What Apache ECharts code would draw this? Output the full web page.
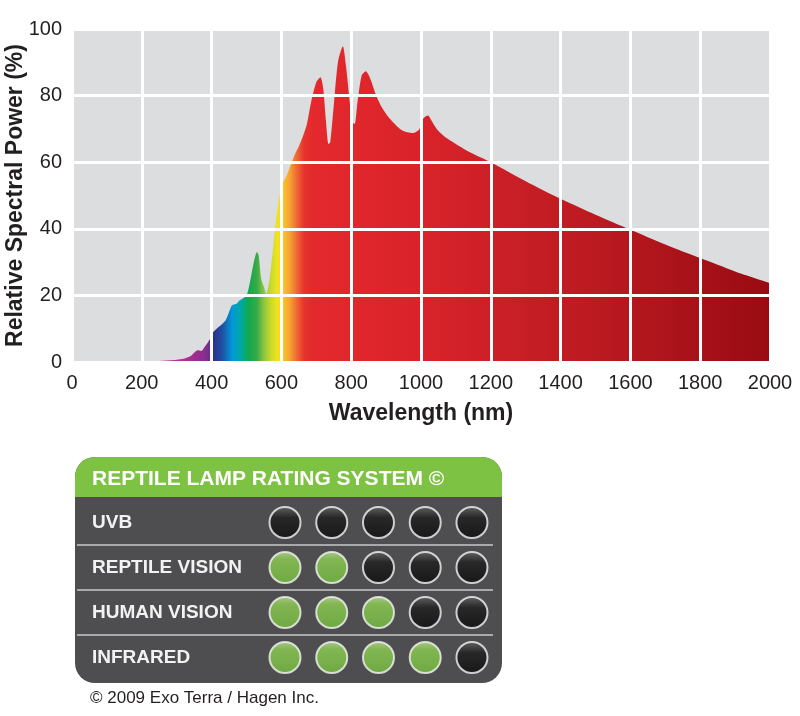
<!DOCTYPE html>
<html>
<head>
<meta charset="utf-8">
<script src="https://cdn.jsdelivr.net/npm/echarts@6/dist/echarts.min.js"></script>
<style>
  html, body { margin: 0; padding: 0; background: #fff; }
  #main { width: 800px; height: 716px; }
</style>
</head>
<body>
<div id="main"></div>
<script>
// spectrum (nm, % relative power)
const wavelengths = [0, 200, 220, 260, 300, 320, 340, 350, 360, 370, 380, 395, 400, 405, 420, 440, 450, 458, 470, 480, 500,
  510, 520, 530, 535, 542, 550, 557, 565, 575, 585, 595, 600, 615, 635, 655, 672, 685, 700, 712, 720, 728, 735, 740,
  750, 762, 776, 785, 795, 803, 810, 818, 830, 842, 855, 870, 885, 900, 920, 940, 960, 978, 990, 996, 1000, 1010,
  1020, 1030, 1045, 1070, 1100, 1140, 1200, 1300, 1400, 1500, 1600, 1700, 1800, 1900, 2000];
const power = [0, 0, 0.2, 0.4, 0.7, 1, 1.8, 2.8, 3.5, 3.3, 4.5, 6.8, 8, 9, 10.5, 12.5, 15, 17, 17.4, 18.5, 20,
  24, 29.5, 33, 32, 25, 22.5, 20.5, 24, 33, 43, 50, 53, 56, 61.5, 66, 71, 78, 84, 85.5, 82, 72, 65.5, 66,
  77, 90, 94.8, 89, 79, 72, 71.5, 78, 86, 87.3, 85, 80.5, 77, 74.5, 72, 70, 69, 68.8, 69.4, 70, 72, 73.5,
  74, 72.5, 70, 67.5, 65.5, 63, 60, 54.3, 49, 44.2, 39.7, 35.3, 31.2, 27.2, 23.7];

// colour of the fill along the wavelength axis
const spectrumNm = [0, 300, 380, 398, 402, 430, 460, 485, 505, 530, 550, 570, 590, 605, 625, 645, 665, 690, 1000, 1500, 2000];
const spectrumColors = ['#c12f8f', '#c12f8f', '#8a2d8f', '#6a2f8c', '#2b2f87', '#1f4fa3', '#009ad8', '#00a9a0', '#10a84e',
  '#3aaa48', '#8dc63f', '#c9da2a', '#f2e41e', '#f9c52c', '#f5a032', '#ee6535', '#e6342e', '#e3292d', '#d9232a', '#bb1a21', '#990b12'];

const xTicks = { min: 0, max: 2000, step: 200 };
const yTicks = { min: 0, max: 100, step: 20 };

// lamp rating
const ratingRows = ['UVB', 'REPTILE VISION', 'HUMAN VISION', 'INFRARED'];
const ratingScores = [0, 2, 3, 4];
const ratingSlots = [1, 2, 3, 4, 5];

const chart = echarts.init(document.getElementById('main'));

const baseFont = '"Liberation Sans", Arial, sans-serif';

const greenDot = {
  type: 'linear', x: 0, y: 0, x2: 0, y2: 1,
  colorStops: [{ offset: 0, color: '#c4e7a2' }, { offset: 0.25, color: '#8fd052' }, { offset: 1, color: '#76c040' }]
};
const blackDot = {
  type: 'linear', x: 0, y: 0, x2: 0, y2: 1,
  colorStops: [{ offset: 0, color: '#6a6a6a' }, { offset: 0.35, color: '#1e1e1e' }, { offset: 1, color: '#0a0a0a' }]
};

const dots = [];
ratingRows.forEach(function (row, i) {
  ratingSlots.forEach(function (s) {
    dots.push({ value: [s, row], itemStyle: { color: s <= ratingScores[i] ? greenDot : blackDot } });
  });
});

chart.setOption({
  animation: false,
  textStyle: { fontFamily: baseFont },
  graphic: [
    { type: 'rect', z: -10, shape: { x: 75, y: 457, width: 427, height: 226, r: 20 }, style: { fill: '#4e4e50' } },
    { type: 'rect', z: -9, shape: { x: 75, y: 457, width: 427, height: 40, r: [20, 20, 0, 0] }, style: { fill: '#7dc242' } },
    { type: 'text', z: -8, x: 92, y: 479, style: { text: 'REPTILE LAMP RATING SYSTEM ©', fill: '#ffffff',
      font: 'bold 21px "Liberation Sans", sans-serif', verticalAlign: 'middle' } },
    { type: 'text', x: 90, y: 698, style: { text: '© 2009 Exo Terra / Hagen Inc.', fill: '#231f20',
      font: '17px "Liberation Sans", sans-serif', verticalAlign: 'middle' } }
  ],
  grid: [
    { left: 72, right: 30, top: 29, bottom: 354, show: true, backgroundColor: '#dcdddf', borderWidth: 0,
      outerBoundsMode: 'none', containLabel: false },
    { left: 77, right: 307, top: 500, height: 180, outerBoundsMode: 'none', containLabel: false }
  ],
  xAxis: [
    {
      gridIndex: 0, type: 'value', min: xTicks.min, max: xTicks.max, interval: xTicks.step, z: 5,
      name: 'Wavelength (nm)', nameLocation: 'middle', nameGap: 40,
      nameTextStyle: { fontWeight: 'bold', fontSize: 23, color: '#231f20' },
      axisLine: { show: false }, axisTick: { show: false },
      axisLabel: { fontSize: 20, color: '#231f20', margin: 11, formatter: function (v) { return String(v); } },
      splitLine: { lineStyle: { color: '#ffffff', width: 3 } }
    },
    {
      gridIndex: 1, type: 'value', min: -3.45, max: 5.45, show: false
    }
  ],
  yAxis: [
    {
      gridIndex: 0, type: 'value', min: yTicks.min, max: yTicks.max, interval: yTicks.step, z: 5,
      name: 'Relative Spectral Power (%)', nameLocation: 'middle', nameGap: 45, nameMoveOverlap: false,
      nameTextStyle: { fontWeight: 'bold', fontSize: 23, color: '#231f20' },
      axisLine: { show: false }, axisTick: { show: false },
      axisLabel: { fontSize: 20, color: '#231f20', margin: 10 },
      splitLine: { lineStyle: { color: '#ffffff', width: 3 } }
    },
    {
      gridIndex: 1, type: 'category', data: ratingRows, inverse: true, z: 3,
      axisLine: { show: false }, axisTick: { show: false },
      axisLabel: { inside: true, margin: 15, align: 'left', color: '#f2f2f2', fontWeight: 'bold', fontSize: 19 },
      splitLine: { show: true, lineStyle: { color: ['transparent', '#c8c8c8', '#c8c8c8', '#c8c8c8', 'transparent'], width: 1.5 } }
    }
  ],
  series: [
    {
      type: 'line', xAxisIndex: 0, yAxisIndex: 0,
      data: wavelengths.map(function (w, i) { return [w, power[i]]; }),
      smooth: 0.25, showSymbol: false, silent: true,
      lineStyle: { width: 0 },
      areaStyle: {
        opacity: 1,
        color: {
          type: 'linear', x: 0, y: 0, x2: 1, y2: 0,
          colorStops: spectrumNm.map(function (n, i) { return { offset: n / xTicks.max, color: spectrumColors[i] }; })
        }
      }
    },
    {
      type: 'scatter', xAxisIndex: 1, yAxisIndex: 1, data: dots, symbolSize: 31, silent: true,
      itemStyle: { borderColor: '#f4f4f4', borderWidth: 2 }
    }
  ]
});
</script>
</body>
</html>
